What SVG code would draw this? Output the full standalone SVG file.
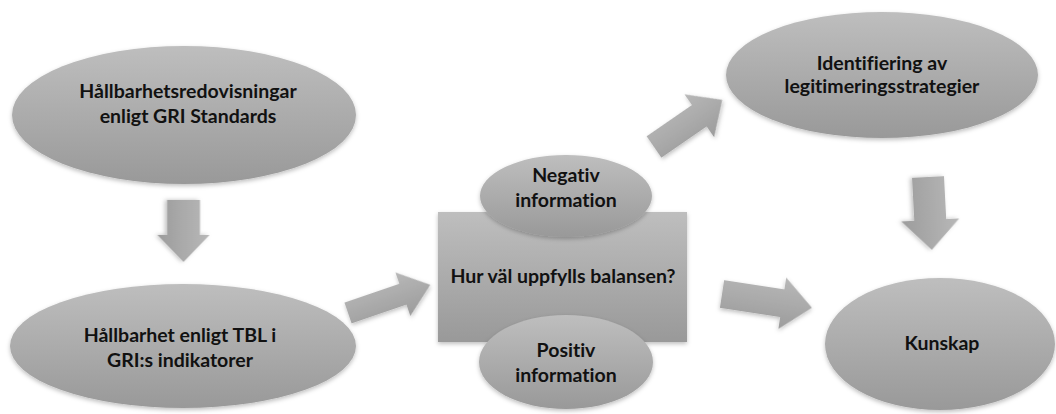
<svg xmlns="http://www.w3.org/2000/svg" width="1056" height="414" viewBox="0 0 1056 414">
<defs>
<linearGradient id="g" x1="0" y1="0" x2="0" y2="1">
<stop offset="0" stop-color="#bebebe"/>
<stop offset="1" stop-color="#999999"/>
</linearGradient>
<linearGradient id="ga" x1="0" y1="0" x2="0" y2="1">
<stop offset="0" stop-color="#b8b8b8"/>
<stop offset="1" stop-color="#9c9c9c"/>
</linearGradient>
<filter id="sh" x="-10%" y="-10%" width="120%" height="130%">
<feDropShadow dx="0" dy="2" stdDeviation="2" flood-color="#000" flood-opacity="0.25"/>
</filter>
</defs>
<style>
.n{fill:url(#g);filter:url(#sh)}
.a{fill:url(#ga);filter:url(#sh)}
text{font-family:Lato,"Liberation Sans",sans-serif;font-weight:700;font-size:19.5px;fill:#111;text-anchor:middle;font-variant-ligatures:none;font-feature-settings:"liga" 0,"dlig" 0}
</style>
<rect width="1056" height="414" fill="#fff"/>
<g id="connectors">
<polygon class="a" transform="translate(183.5,200) rotate(90)" points="0,-16.5 35,-16.5 35,-26 62,0 35,26 35,16.5 0,16.5"/>
<polygon class="a" transform="translate(348,313) rotate(-18.9)" points="0,-11 58,-11 58,-23 87,0 58,23 58,11 0,11"/>
<polygon class="a" transform="translate(654,147) rotate(-34.6)" points="0,-13 55,-13 55,-26 83,0 55,26 55,13 0,13"/>
<polygon class="a" transform="translate(928,177) rotate(87)" points="0,-16 43,-16 43,-29 73,0 43,29 43,16 0,16"/>
<polygon class="a" transform="translate(722,294) rotate(8.7)" points="0,-14 61,-14 61,-26 91,0 61,26 61,14 0,14"/>
</g>
<g id="n1">
<ellipse class="n" cx="184" cy="115" rx="172" ry="69"/>
<text x="188" y="98">Hållbarhetsredovisningar</text>
<text x="188" y="123">enligt GRI Standards</text>
</g>
<g id="n2">
<ellipse class="n" cx="183" cy="346" rx="173" ry="62"/>
<text x="180" y="342">Hållbarhet enligt TBL i</text>
<text x="180" y="367">GRI:s indikatorer</text>
</g>
<g id="n3">
<rect class="n" x="438" y="212" width="249" height="130"/>
<text x="563" y="283">Hur väl uppfylls balansen?</text>
</g>
<g id="n4">
<ellipse class="n" cx="566" cy="196" rx="86" ry="41"/>
<text x="566" y="182">Negativ</text>
<text x="566" y="207">information</text>
</g>
<g id="n5">
<ellipse class="n" cx="566" cy="362" rx="87" ry="47"/>
<text x="566" y="357">Positiv</text>
<text x="566" y="382">information</text>
</g>
<g id="n6">
<ellipse class="n" cx="882" cy="75" rx="156" ry="63"/>
<text x="882" y="70">Identifiering av</text>
<text x="882" y="93">legitimeringsstrategier</text>
</g>
<g id="n7">
<ellipse class="n" cx="940" cy="344" rx="115" ry="66"/>
<text x="942" y="350">Kunskap</text>
</g>
</svg>
